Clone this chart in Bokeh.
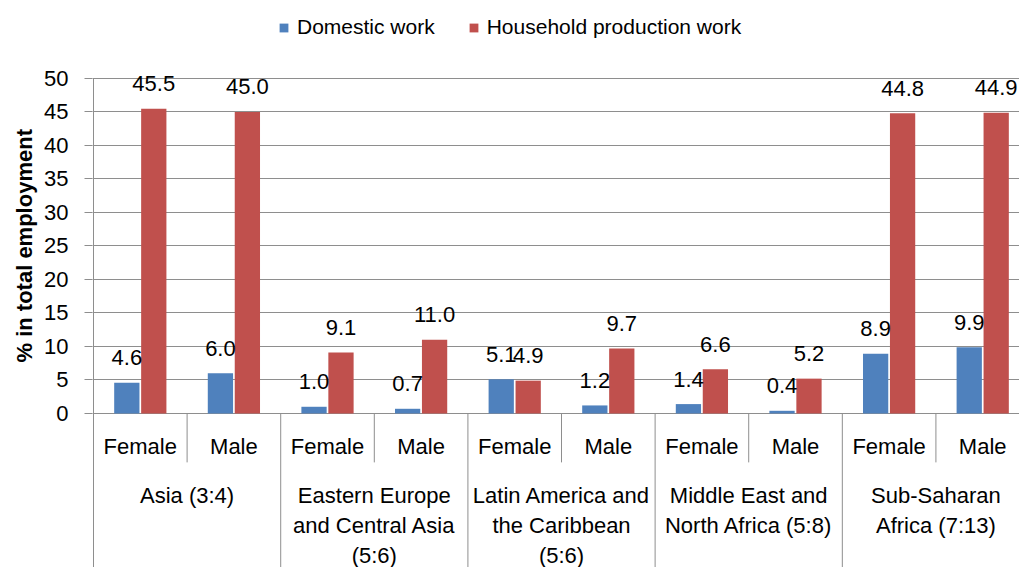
from bokeh.plotting import figure
from bokeh.models import Range1d, FixedTicker, ColumnDataSource, Legend, LegendItem, Title
from bokeh.core.properties import value
from bokeh.embed import file_html
from bokeh.resources import INLINE

# ---- data ----
regions = ["Asia (3:4)",
           "Eastern Europe\nand Central Asia\n(5:6)",
           "Latin America and\nthe Caribbean\n(5:6)",
           "Middle East and\nNorth Africa (5:8)",
           "Sub-Saharan\nAfrica (7:13)"]
genders = ["Female", "Male"]
series_names = ["Domestic work", "Household production work"]
domestic = [4.6, 6.0, 1.0, 0.7, 5.1, 1.2, 1.4, 0.4, 8.9, 9.9]
household = [45.5, 45.0, 9.1, 11.0, 4.9, 9.7, 6.6, 5.2, 44.8, 44.9]
y_ticks = [0, 5, 10, 15, 20, 25, 30, 35, 40, 45, 50]

FONT = "Liberation Sans"
BLUE = "#4F81BD"
RED = "#C0504D"
GRID = "#8e8e8e"
FS = "22px"

n = len(regions) * len(genders)
centers = [i + 0.5 for i in range(n)]
gender_labels = [genders[i % 2] for i in range(n)]

Y0, Y1 = -22.99, 61.64
p = figure(width=1019, height=567, output_backend="svg", toolbar_location=None,
           x_range=Range1d(-0.0107, 9.893), y_range=Range1d(Y0, Y1),
           min_border_left=92, min_border_right=0, min_border_top=0, min_border_bottom=0)
p.outline_line_color = None
p.xaxis.visible = False
p.xgrid.visible = False

ticker = FixedTicker(ticks=y_ticks)
p.yaxis.ticker = ticker
p.ygrid.ticker = ticker
p.ygrid.grid_line_color = GRID
p.ygrid.grid_line_width = 1
p.yaxis.axis_line_color = None
p.yaxis.major_tick_line_color = GRID
p.yaxis.major_tick_out = 8
p.yaxis.major_tick_in = 0
p.yaxis.minor_tick_line_color = None
p.yaxis.major_label_standoff = 16
p.yaxis.major_label_text_font = FONT
p.yaxis.major_label_text_font_size = FS
p.yaxis.major_label_text_color = "#000000"

src = ColumnDataSource(dict(
    xd=[c - 0.144 for c in centers], xh=[c + 0.144 for c in centers],
    d=domestic, h=household,
    dl=["%.1f" % v for v in domestic], hl=["%.1f" % v for v in household],
))
rd = p.vbar(x="xd", top="d", bottom=0, width=0.27, source=src, fill_color=BLUE, line_color=None)
rh = p.vbar(x="xh", top="h", bottom=0, width=0.27, source=src, fill_color=RED, line_color=None)

for xcol, ycol, tcol in (("xd", "d", "dl"), ("xh", "h", "hl")):
    p.text(x=xcol, y=ycol, text=tcol, source=src, text_align="center",
           text_baseline="alphabetic", y_offset=-25, text_font=value(FONT),
           text_font_size=FS, text_color="#000000")

# category axis drawn in the frame
p.segment(x0=[0], y0=[Y0], x1=[0], y1=[y_ticks[-1]], line_color=GRID, line_width=1)
short_x = [2 * r + 1 for r in range(len(regions))]
long_x = [2 * r for r in range(1, len(regions))]
p.segment(x0=short_x, y0=[0] * len(short_x), x1=short_x, y1=[-7.3] * len(short_x),
          line_color=GRID, line_width=1)
p.segment(x0=long_x, y0=[0] * len(long_x), x1=long_x, y1=[Y0] * len(long_x),
          line_color=GRID, line_width=1)

p.text(x=centers, y=[0] * n, text=gender_labels, text_align="center",
       text_baseline="alphabetic", y_offset=33, text_font=value(FONT),
       text_font_size=FS, text_color="#000000")
p.text(x=[2 * r + 1 for r in range(len(regions))], y=[0] * len(regions), text=regions,
       text_align="center", text_baseline="top", y_offset=70, text_line_height=1.2,
       text_font=value(FONT), text_font_size=FS, text_color="#000000")

# y axis title
p.add_layout(Title(text="% in total employment", align="left", offset=205,
                   text_font=FONT, text_font_size="22px", text_font_style="bold",
                   text_color="#000000"), "left")

legend = Legend(items=[LegendItem(label=series_names[0], renderers=[rd]),
                       LegendItem(label=series_names[1], renderers=[rh])],
                orientation="horizontal", location=(186, 528),
                border_line_color=None, background_fill_alpha=0, padding=0, margin=0,
                label_standoff=8, spacing=33, glyph_width=11, glyph_height=11,
                label_text_font=FONT, label_text_font_size="21px", label_text_color="#000000")
p.add_layout(legend)

open("out.html", "w").write(file_html(p, INLINE))
